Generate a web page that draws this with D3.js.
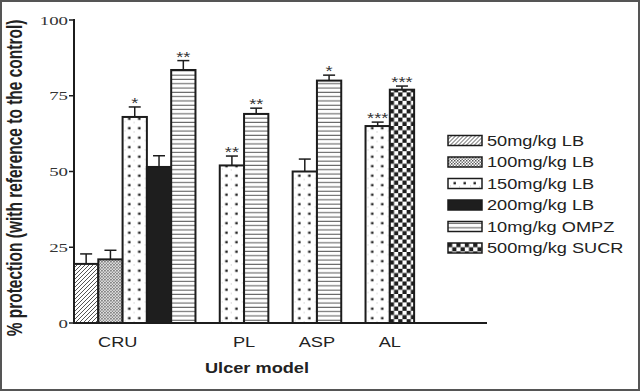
<!DOCTYPE html>
<html lang="en">
<head>
<meta charset="UTF-8" />
<title>% protection by ulcer model</title>
<script src="https://cdn.jsdelivr.net/npm/d3@7"></script>
<style>
  body { margin: 0; background: #fff; }
</style>
</head>
<body>
<svg id="vis" width="640" height="391"></svg>
<script>
// ---- data ----
var groups = ["CRU", "PL", "ASP", "AL"];
var seriesNames = ["50mg/kg LB", "100mg/kg LB", "150mg/kg LB", "200mg/kg LB", "10mg/kg OMPZ", "500mg/kg SUCR"];
var patternTypes = ["hatch", "mesh", "dots", "solid", "lines", "checker"];

// mean % protection per group (null = not tested)
var cruValues = [19.5, 21, 68, 51.5, 83.5, null];
var plValues  = [null, null, 52, null, 69, null];
var aspValues = [null, null, 50, null, 80, null];
var alValues  = [null, null, 65, null, null, 77];

// upper error (SEM)
var cruErr = [3.3, 3, 3.3, 3.7, 3.1, null];
var plErr  = [null, null, 3.1, null, 1.9, null];
var aspErr = [null, null, 4.1, null, 1.8, null];
var alErr  = [null, null, 1.3, null, null, 1.2];

// significance marks
var cruStars = ["", "", "*", "", "**", ""];
var plStars  = ["", "", "**", "", "**", ""];
var aspStars = ["", "", "", "", "*", ""];
var alStars  = ["", "", "***", "", "", "***"];

var yTicks = [0, 25, 50, 75, 100];
var groupLabelSlot = [1.8, 7, 10, 13];

var allValues = [cruValues, plValues, aspValues, alValues];
var allErr = [cruErr, plErr, aspErr, alErr];
var allStars = [cruStars, plStars, aspStars, alStars];

// ---- build the bar list: bars side by side, one empty slot between groups ----
var bars = [];
var slot = 0;
for (var g = 0; g < groups.length; g++) {
  if (g > 0) slot++;
  for (var s = 0; s < seriesNames.length; s++) {
    if (allValues[g][s] != null) {
      bars.push({ group: g, series: s, slot: slot, value: allValues[g][s], err: allErr[g][s], stars: allStars[g][s] });
      slot++;
    }
  }
}
var nSlots = slot + 3;

var svg = d3.select("#vis");
var ink = "#1c1c1c";
var sx = 1.3; // the figure text is stretched horizontally

svg.append("rect").attr("width", 640).attr("height", 391).attr("fill", "#fff");

var scaleX = d3.scaleLinear().domain([0, nSlots]).range([74, 487]);
var scaleY = d3.scaleLinear().domain([0, 100]).range([323, 20]);
var slotW = scaleX(1) - scaleX(0);

var defs = svg.append("defs");

// one pattern per bar so the texture is aligned with each bar's left edge
function makePattern(id, type, x0, y0) {
  var p, w, h;
  if (type == "hatch") { w = 4; h = 4; }
  else if (type == "mesh") { w = 3; h = 3; }
  else if (type == "dots") { w = 20; h = 9.5; }
  else if (type == "lines") { w = 4; h = 4.3; }
  else if (type == "checker") { w = 8.4; h = 8.4; }
  else { w = 4; h = 4; }
  p = defs.append("pattern").attr("id", id)
    .attr("patternUnits", "userSpaceOnUse")
    .attr("x", x0).attr("y", y0).attr("width", w).attr("height", h);
  p.append("rect").attr("width", w).attr("height", h).attr("fill", type == "solid" ? "#1e1e1e" : "#fff");
  if (type == "hatch") {
    p.append("path").attr("d", "M-1,1 L1,-1 M0,4 L4,0 M3,5 L5,3")
      .attr("stroke", "#555").attr("stroke-width", 1);
  } else if (type == "mesh") {
    p.append("rect").attr("width", 1.5).attr("height", 1.5).attr("fill", "#555");
    p.append("rect").attr("x", 1.5).attr("y", 1.5).attr("width", 1.5).attr("height", 1.5).attr("fill", "#777");
  } else if (type == "dots") {
    p.append("rect").attr("x", 5.5).attr("y", 3.5).attr("width", 2.4).attr("height", 2.4).attr("fill", "#222");
    p.append("rect").attr("x", 15.5).attr("y", 3.5).attr("width", 2.4).attr("height", 2.4).attr("fill", "#222");
    p.append("rect").attr("x", 11).attr("y", 8).attr("width", 1).attr("height", 1).attr("fill", "#bbb");
    p.append("rect").attr("x", 2).attr("y", 7).attr("width", 1).attr("height", 1).attr("fill", "#ccc");
  } else if (type == "lines") {
    p.append("line").attr("x1", 0).attr("x2", w).attr("y1", 2).attr("y2", 2)
      .attr("stroke", "#555").attr("stroke-width", 1);
  } else if (type == "checker") {
    p.append("rect").attr("width", 4.2).attr("height", 4.2).attr("fill", "#1e1e1e");
    p.append("rect").attr("x", 4.2).attr("y", 4.2).attr("width", 4.2).attr("height", 4.2).attr("fill", "#1e1e1e");
  }
}

// ---- bars ----
var gBars = svg.append("g");
bars.forEach(function (d, i) {
  var x0 = scaleX(d.slot);
  makePattern("bar" + i, patternTypes[d.series], x0, 0);
  gBars.append("rect")
    .attr("x", x0).attr("width", slotW)
    .attr("y", scaleY(d.value)).attr("height", scaleY(0) - scaleY(d.value))
    .attr("fill", "url(#bar" + i + ")")
    .attr("stroke", ink).attr("stroke-width", 2);
});

// error bars (upper only) and stars
var gErr = svg.append("g").attr("stroke", ink).attr("stroke-width", 1.5);
bars.forEach(function (d) {
  var cx = scaleX(d.slot + 0.5);
  var top = scaleY(d.value + d.err);
  gErr.append("line").attr("x1", cx).attr("x2", cx).attr("y1", scaleY(d.value)).attr("y2", top);
  gErr.append("line").attr("x1", cx - 6).attr("x2", cx + 6).attr("y1", top).attr("y2", top);
  if (d.stars != "") {
    svg.append("text")
      .attr("transform", "translate(" + cx + "," + (top + 1) + ") scale(" + sx + ",1)")
      .attr("text-anchor", "middle")
      .attr("font-family", "Liberation Sans, Arial, sans-serif")
      .attr("font-size", 14).attr("fill", "#333")
      .text(d.stars);
  }
});

// ---- axes ----
var gAxes = svg.append("g").attr("stroke", ink);
gAxes.append("line").attr("x1", scaleX(0)).attr("x2", scaleX(0))
  .attr("y1", scaleY(100) - 1).attr("y2", scaleY(0)).attr("stroke-width", 2);
gAxes.append("line").attr("x1", scaleX(0)).attr("x2", scaleX(nSlots))
  .attr("y1", scaleY(0)).attr("y2", scaleY(0)).attr("stroke-width", 2);

yTicks.forEach(function (t) {
  gAxes.append("line").attr("x1", scaleX(0) - 5).attr("x2", scaleX(0))
    .attr("y1", scaleY(t)).attr("y2", scaleY(t)).attr("stroke-width", 1.5);
  svg.append("text")
    .attr("transform", "translate(" + (scaleX(0) - 6) + "," + (scaleY(t) + 4.5) + ") scale(1.45,1)")
    .attr("text-anchor", "end")
    .attr("font-family", "Liberation Serif, Times New Roman, serif")
    .attr("font-size", 13).attr("fill", "#333")
    .text(t);
});

groups.forEach(function (name, i) {
  svg.append("text")
    .attr("transform", "translate(" + scaleX(groupLabelSlot[i]) + ",347) scale(" + sx + ",1)")
    .attr("text-anchor", "middle")
    .attr("font-family", "Liberation Sans, Arial, sans-serif")
    .attr("font-size", 14).attr("fill", "#222")
    .text(name);
});

// axis titles
svg.append("text")
  .attr("transform", "translate(257,373) scale(" + sx + ",1)")
  .attr("text-anchor", "middle")
  .attr("font-family", "Liberation Sans, Arial, sans-serif")
  .attr("font-size", 14).attr("font-weight", "bold").attr("fill", "#222")
  .text("Ulcer model");

svg.append("text")
  .attr("transform", "translate(22,178) scale(1.4,1) rotate(-90)")
  .attr("text-anchor", "middle")
  .attr("font-family", "Liberation Sans, Arial, sans-serif")
  .attr("font-size", 15.5).attr("font-weight", "bold").attr("fill", "#222")
  .text("% protection (with reference to the control)");

// ---- legend ----
var gLegend = svg.append("g");
seriesNames.forEach(function (name, i) {
  var cy = 140.5 + i * 21.5;
  makePattern("leg" + i, patternTypes[i], 448, cy - 5);
  gLegend.append("rect")
    .attr("x", 448).attr("y", cy - 5).attr("width", 34).attr("height", 10)
    .attr("fill", "url(#leg" + i + ")")
    .attr("stroke", ink).attr("stroke-width", 1.5);
  gLegend.append("text")
    .attr("transform", "translate(487," + (cy + 5) + ") scale(" + sx + ",1)")
    .attr("font-family", "Liberation Sans, Arial, sans-serif")
    .attr("font-size", 14).attr("fill", "#222")
    .text(name);
});

// outer frame of the figure
svg.append("rect").attr("x", 1).attr("y", 1).attr("width", 638).attr("height", 389)
  .attr("fill", "none").attr("stroke", "#555").attr("stroke-width", 2);
</script>
</body>
</html>
